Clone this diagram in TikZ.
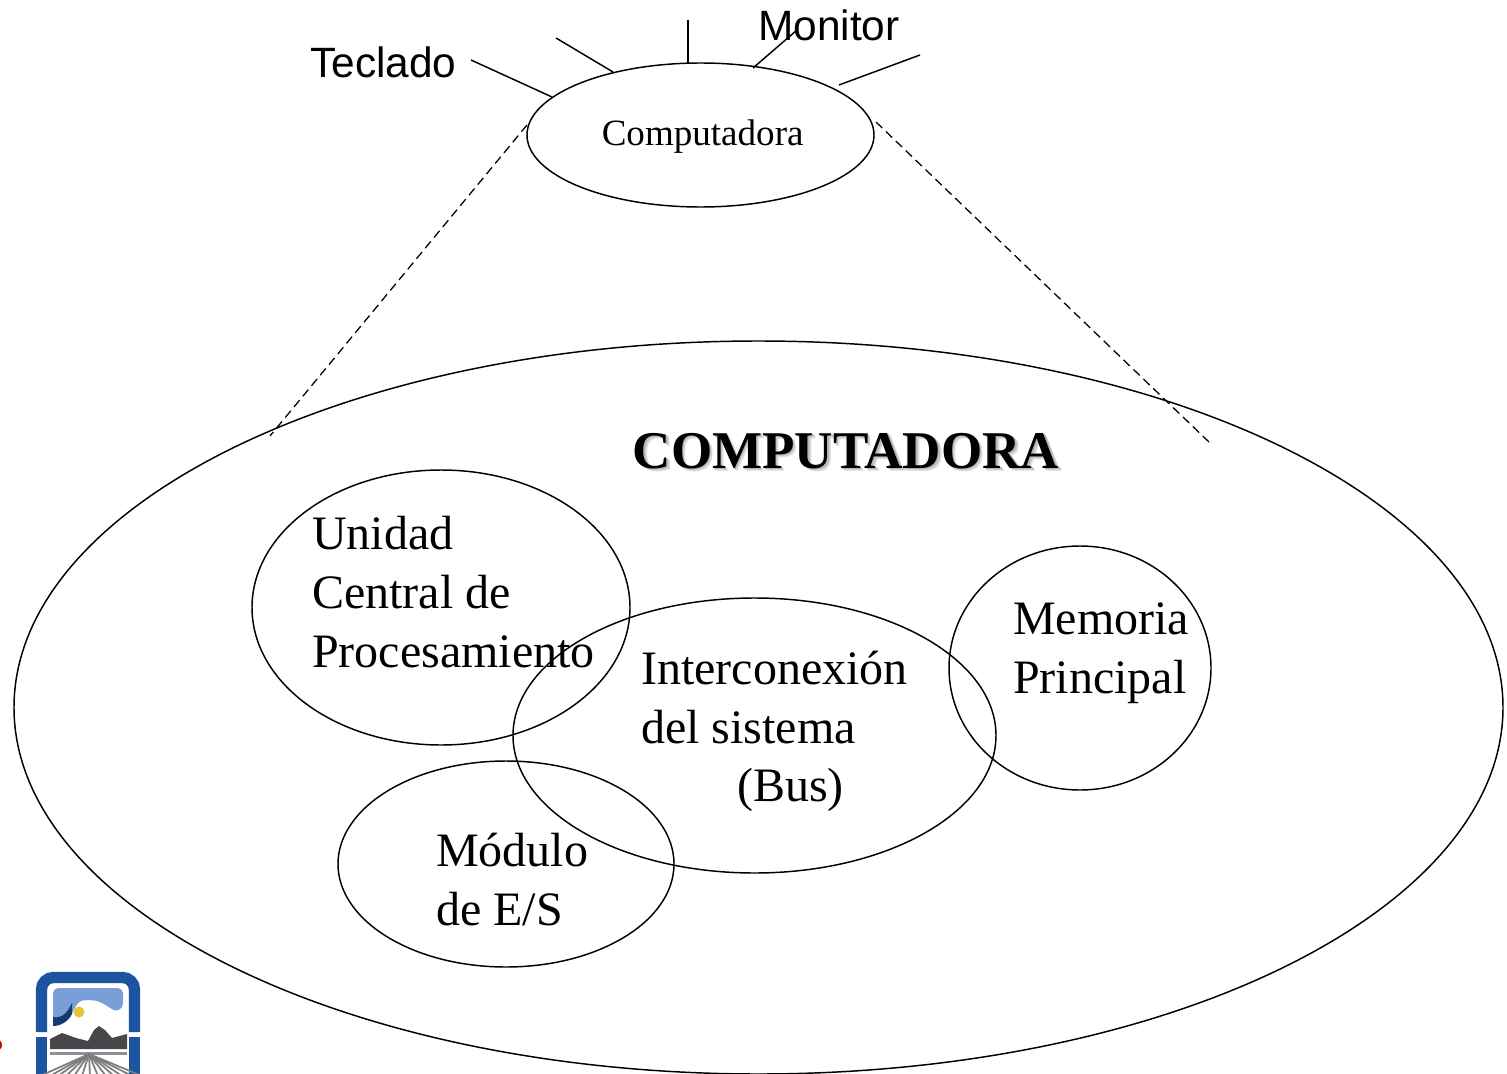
\documentclass[tikz,border=0pt]{standalone}
\usepackage{fontspec}
\setmainfont{Liberation Serif}
\newfontfamily\arialf{Liberation Sans}
\usetikzlibrary{shapes.geometric}
\definecolor{logoblue}{RGB}{28,84,160}
\definecolor{logolight}{RGB}{120,160,215}
\definecolor{logodark}{RGB}{70,70,75}
\tikzset{
  x=0.75pt,y=-0.75pt,
  oval/.style={draw=black,line width=1.1pt,ellipse,inner sep=0pt,fill=none},
  link/.style={draw=black,line width=1.1pt},
  dashlink/.style={draw=black,line width=0.95pt,dash pattern=on 6.5pt off 3.8pt},
  bigtext/.style={font=\fontsize{36pt}{36pt}\selectfont,anchor=base west,inner sep=0pt},
  sanstext/.style={font=\arialf\fontsize{31.8pt}{31.8pt}\selectfont,anchor=base west,inner sep=0pt},
}
\begin{document}
\begin{tikzpicture}
\useasboundingbox (0,0) rectangle (1507,1074);
\clip (0,0) rectangle (1507,1074);
\fill[white] (0,0) rectangle (1507,1074);
% logo
\fill[red!80!black] (-4,1045) circle (6);
\draw[logoblue,line width=8.5pt,rounded corners=9pt] (41.5,1032) -- (41.5,977.5) -- (134.5,977.5) -- (134.5,1032);
\draw[logoblue,line width=8.5pt] (41.5,1037) -- (41.5,1080);
\draw[logoblue,line width=8.5pt] (134.5,1037) -- (134.5,1080);
\fill[logolight,rounded corners=4] (53,988) -- (123,988) -- (123,1009) .. controls (112,1012) and (104,1001) .. (88,1000) .. controls (74,1001) and (72,1024) .. (53,1024) -- cycle;
\fill[logoblue!70!black] (53,1017) .. controls (62,1019) and (68,1012) .. (72,1003) -- (72,1014) .. controls (68,1022) and (60,1026) .. (53,1026) -- cycle;
\fill[yellow!55!brown] (79,1012) circle (5.5);
\fill[logodark] (50,1049) -- (50,1039) -- (62,1033) -- (76,1038) -- (88,1041) -- (94,1030) -- (99,1026) -- (105,1030) -- (112,1038) -- (127,1034) -- (127,1049) -- cycle;
\fill[logodark!60] (50,1052) rectangle (127,1055);
\foreach \xb in {40,50,58,66,74,82,90,98,106,114,122,132,142}{
  \draw[logodark!70,line width=1.3pt] (89,1054) -- (\xb,1076);
}
% ovals
\node[oval,minimum width=1489*0.75pt,minimum height=733*0.75pt] (big) at (758.5,707.5) {};
\node[oval,minimum width=347*0.75pt,minimum height=144*0.75pt] (comp) at (700.5,135) {};
\node[oval,minimum width=378*0.75pt,minimum height=275*0.75pt] (cpu) at (441,607.5) {};
\node[oval,minimum width=483*0.75pt,minimum height=275*0.75pt] (bus) at (754.5,735.5) {};
\node[oval,minimum width=262*0.75pt,minimum height=244*0.75pt] (mem) at (1080,668) {};
\node[oval,minimum width=336*0.75pt,minimum height=206*0.75pt] (es) at (506,864) {};
% free ends
\coordinate (f1) at (471,60);
\coordinate (e1) at (552,97);
\coordinate (f2) at (556,38);
\coordinate (e2) at (613,72);
\coordinate (f3) at (688,20);
\coordinate (e3) at (688,63);
\coordinate (f4) at (797,30);
\coordinate (e4) at (753,68);
\coordinate (f5) at (920,55);
\coordinate (e5) at (839,85);
\coordinate (d1) at (527,125);
\coordinate (d2) at (270,436);
\coordinate (d3) at (876,122);
\coordinate (d4) at (1210,443);
\draw[link] (f1) -- (e1);
\draw[link] (f2) -- (e2);
\draw[link] (f3) -- (e3);
\draw[link] (f4) -- (e4);
\draw[link] (f5) -- (e5);
\draw[dashlink] (d1) -- (d2);
\draw[dashlink] (d3) -- (d4);
% texts
\node[sanstext] (tec) at (310,78) {Teclado};
\node[sanstext] (mon) at (758,41) {Monitor};
\node[font=\fontsize{27.8pt}{27.8pt}\selectfont,anchor=base west,inner sep=0pt] (ct) at (601.5,146) {Computadora};
\foreach \dd/\cc in {3.5/black!10,2.5/black!18,1.5/black!28}{
  \node[font=\bfseries\fontsize{39.8pt}{39.8pt}\selectfont,anchor=base west,inner sep=0pt,text=\cc] at (632.5+\dd,468+\dd) {COMPUTADORA};
}
\node[font=\bfseries\fontsize{39.8pt}{39.8pt}\selectfont,anchor=base west,inner sep=0pt] (title) at (632.5,468) {COMPUTADORA};
\node[bigtext] (u1) at (312,549) {Unidad};
\node[bigtext] (u2) at (312,608) {Central de};
\node[bigtext] (u3) at (312,667) {Procesamiento};
\node[bigtext] (i1) at (641,684) {Interconexión};
\node[bigtext] (i2) at (641,743) {del sistema};
\node[bigtext] (i3) at (737,801) {(Bus)};
\node[bigtext] (m1) at (1013,634) {Memoria};
\node[bigtext] (m2) at (1013,693) {Principal};
\node[bigtext] (s1) at (436,866) {Módulo};
\node[bigtext] (s2) at (436,925) {de E/S};
\end{tikzpicture}
\end{document}
